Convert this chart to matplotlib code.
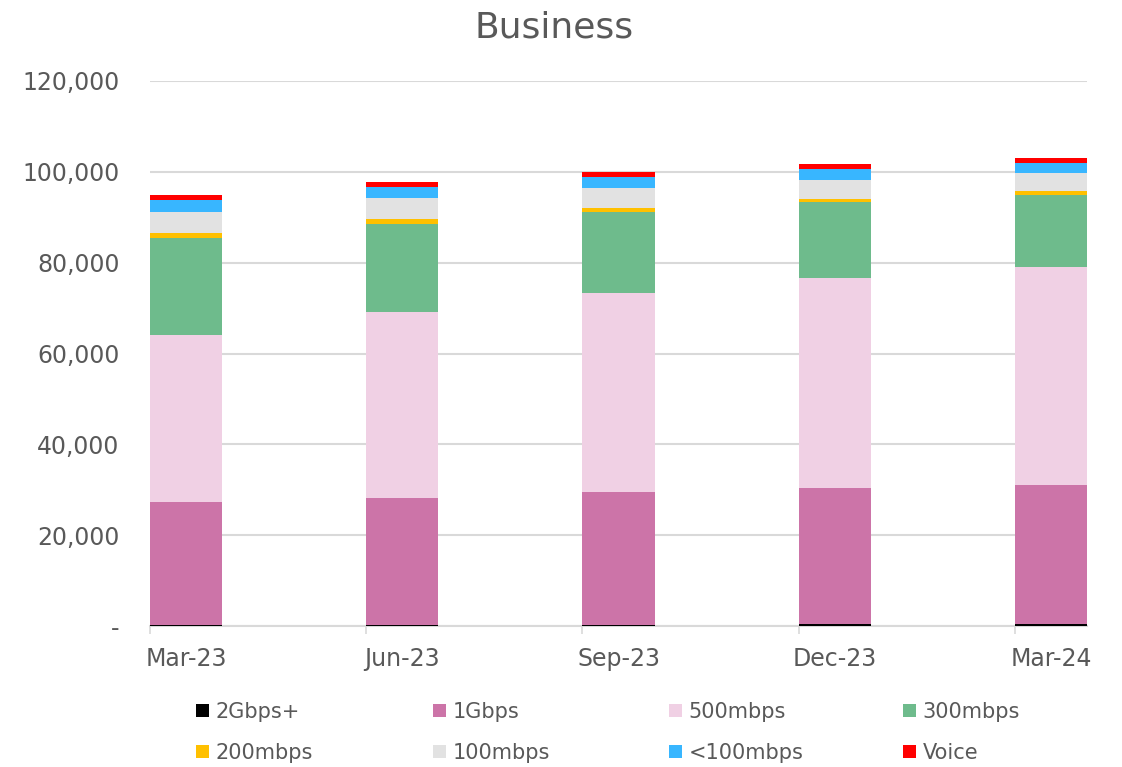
import numpy as np
import matplotlib.pyplot as plt
from matplotlib.ticker import FuncFormatter

quarters = ['Mar-23', 'Jun-23', 'Sep-23', 'Dec-23', 'Mar-24']
tiers = ['2Gbps+', '1Gbps', '500mbps', '300mbps',
         '200mbps', '100mbps', '<100mbps', 'Voice']

gbps2 = [200, 200, 300, 400, 500]
gbps1 = [27100, 28000, 29200, 30000, 30550]
mbps500 = [36800, 40950, 43800, 46200, 48050]
mbps300 = [21400, 19450, 17750, 16750, 15850]
mbps200 = [1000, 1050, 950, 650, 800]
mbps100 = [4650, 4550, 4350, 4200, 3900]
under100 = [2650, 2500, 2500, 2350, 2250]
voice = [1100, 1100, 1100, 1150, 1100]

colors = ['#000000', '#CC74A8', '#F0D0E4', '#6EBB8C',
          '#FFC000', '#E2E2E2', '#38B6FF', '#FF0000']
series = [gbps2, gbps1, mbps500, mbps300, mbps200, mbps100, under100, voice]

txt = '#595959'
fig = plt.figure(figsize=(11.22, 7.67), dpi=100)
ax = fig.add_axes([0.1337, 0.1838, 0.8351, 0.7106])

x = np.arange(len(quarters))
w = 1 / 3
bottom = np.zeros(len(quarters))
handles = []
for name, vals, c in zip(tiers, series, colors):
    b = ax.bar(x, vals, w, bottom=bottom, color=c, label=name, zorder=3)
    handles.append(b)
    bottom += np.array(vals)

ax.set_xlim(-w / 2, len(quarters) - 1 + w / 2)
ax.set_ylim(0, 120000)
ax.set_yticks(np.arange(0, 120001, 20000))
ax.yaxis.set_major_formatter(FuncFormatter(lambda v, p: '-' if v == 0 else f'{v:,.0f}'))
ax.grid(axis='y', color='#D9D9D9', linewidth=1.5, zorder=0)

ax.set_xticks(x)
ax.set_xticklabels(quarters)
ax.set_xticks(x - w / 2, minor=True)
ax.tick_params(axis='x', which='major', length=0, pad=15, labelsize=17, labelcolor=txt)
ax.tick_params(axis='x', which='minor', length=6, width=1.2, color='#D9D9D9')
ax.tick_params(axis='y', length=0, pad=22, labelsize=17, labelcolor=txt)

for s in ['top', 'right', 'left']:
    ax.spines[s].set_visible(False)
ax.spines['bottom'].set_color('#D9D9D9')
ax.spines['bottom'].set_linewidth(1.5)

fig.text(0.494, 1 - 27 / 767, 'Business', ha='center', va='center',
         fontsize=26, color=txt)

# legend laid out row by row: one small legend per column
col_x = [196, 433, 669, 903]
for j, cx in enumerate(col_x):
    leg = fig.legend(handles=[handles[j], handles[j + 4]],
                     labels=[tiers[j], tiers[j + 4]],
                     loc='center left', bbox_to_anchor=(cx / 1122, 1 - 732.5 / 767),
                     frameon=False, fontsize=15, labelcolor=txt, borderpad=0,
                     borderaxespad=0, handlelength=0.6, handleheight=0.6,
                     handletextpad=0.35, labelspacing=1.0)

fig.savefig('out.png', dpi=100)
